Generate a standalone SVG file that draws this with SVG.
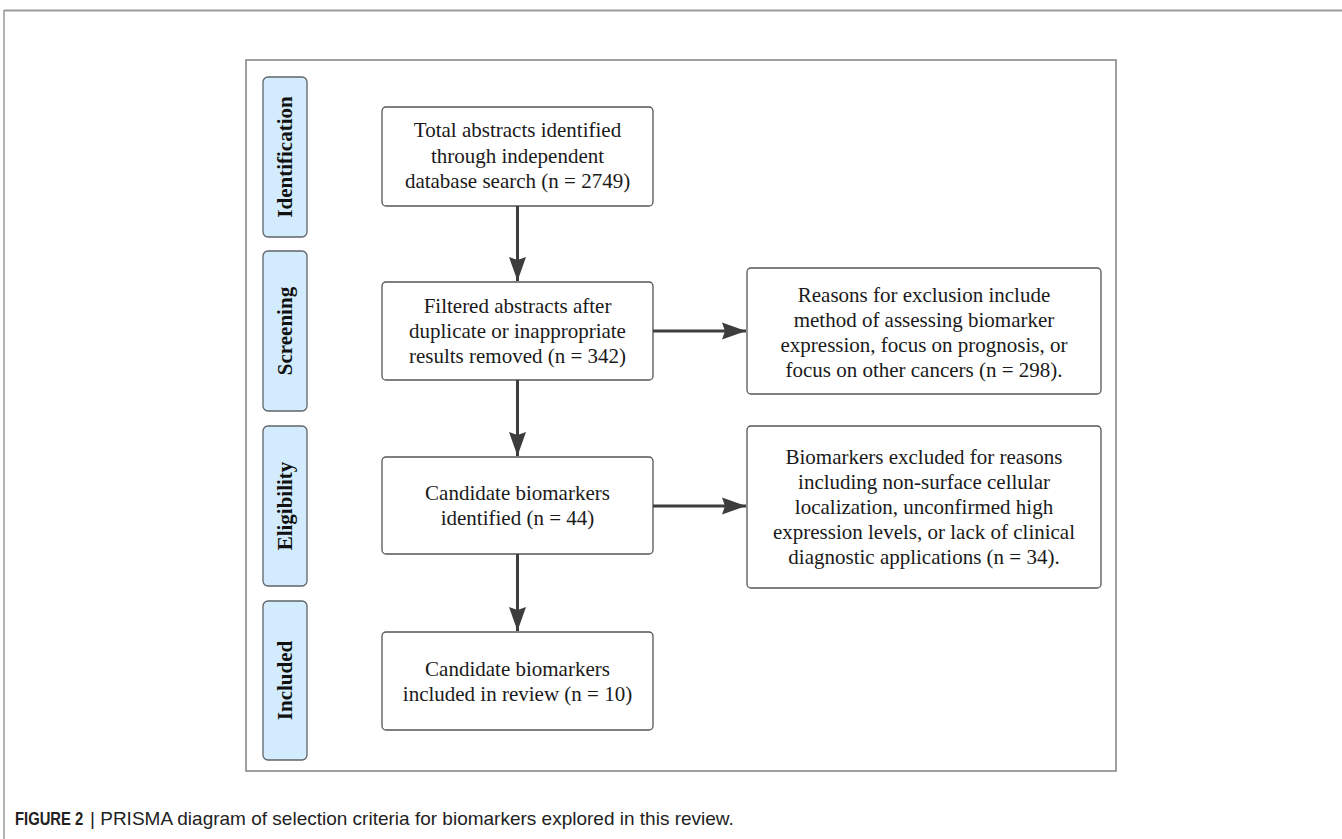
<svg xmlns="http://www.w3.org/2000/svg" width="1342" height="839" viewBox="0 0 1342 839">
<defs>
<style>
.stage{fill:#d3ecfd;stroke:#5f6468;stroke-width:1.3}
.stxt{font-family:"Liberation Serif","Times New Roman",serif;font-weight:bold;font-size:21px;fill:#111;text-anchor:middle}
.box{fill:#fff;stroke:#555;stroke-width:1.3}
.btxt{font-family:"Liberation Serif","Times New Roman",serif;font-size:21px;fill:#1a1a1a;text-anchor:middle}
.conn{stroke:#3d3d3d;stroke-width:3;fill:none}
.cap{font-family:"Liberation Sans",Arial,sans-serif;font-size:19px;fill:#222}
</style>
<marker id="arr" viewBox="0 0 24 18" refX="24" refY="9" markerWidth="24" markerHeight="18" markerUnits="userSpaceOnUse" orient="auto">
<path d="M0,0.5 L24,9 L0,17.5 L3,9 z" fill="#3d3d3d"/>
</marker>
</defs>
<rect width="1342" height="839" fill="#fff"/>
<g id="page-border">
<line x1="4" y1="10.5" x2="1342" y2="10.5" stroke="#9a9a9a" stroke-width="2"/>
<line x1="4" y1="10" x2="4" y2="839" stroke="#9a9a9a" stroke-width="1.5"/>
</g>
<rect id="frame" x="246" y="60" width="870" height="711" fill="none" stroke="#808080" stroke-width="1.5"/>
<g id="stage-identification">
<rect class="stage" x="263" y="77" width="44" height="160" rx="5"/>
<text class="stxt" transform="translate(292,157) rotate(-90)">Identification</text>
</g>
<g id="stage-screening">
<rect class="stage" x="263" y="251" width="44" height="160" rx="5"/>
<text class="stxt" transform="translate(292,331) rotate(-90)">Screening</text>
</g>
<g id="stage-eligibility">
<rect class="stage" x="263" y="426" width="44" height="160" rx="5"/>
<text class="stxt" transform="translate(292,506) rotate(-90)">Eligibility</text>
</g>
<g id="stage-included">
<rect class="stage" x="263" y="601" width="44" height="159" rx="5"/>
<text class="stxt" transform="translate(292,680.5) rotate(-90)">Included</text>
</g>
<g id="box-identified">
<rect class="box" x="382" y="107" width="271" height="99" rx="4"/>
<text class="btxt" x="517.5" y="137">Total abstracts identified</text>
<text class="btxt" x="517.5" y="162.5">through independent</text>
<text class="btxt" x="517.5" y="188">database search (n = 2749)</text>
</g>
<g id="box-filtered">
<rect class="box" x="382" y="282" width="271" height="98" rx="4"/>
<text class="btxt" x="517.5" y="313">Filtered abstracts after</text>
<text class="btxt" x="517.5" y="338">duplicate or inappropriate</text>
<text class="btxt" x="517.5" y="363">results removed (n = 342)</text>
</g>
<g id="box-excl1">
<rect class="box" x="747" y="268" width="354" height="126" rx="4"/>
<text class="btxt" x="924" y="302">Reasons for exclusion include</text>
<text class="btxt" x="924" y="327">method of assessing biomarker</text>
<text class="btxt" x="924" y="352">expression, focus on prognosis, or</text>
<text class="btxt" x="924" y="377">focus on other cancers (n = 298).</text>
</g>
<g id="box-candidates">
<rect class="box" x="382" y="457" width="271" height="97" rx="4"/>
<text class="btxt" x="517.5" y="500">Candidate biomarkers</text>
<text class="btxt" x="517.5" y="525">identified (n = 44)</text>
</g>
<g id="box-excl2">
<rect class="box" x="747" y="426" width="354" height="162" rx="4"/>
<text class="btxt" x="924" y="464">Biomarkers excluded for reasons</text>
<text class="btxt" x="924" y="489">including non-surface cellular</text>
<text class="btxt" x="924" y="514">localization, unconfirmed high</text>
<text class="btxt" x="924" y="539">expression levels, or lack of clinical</text>
<text class="btxt" x="924" y="564">diagnostic applications (n = 34).</text>
</g>
<g id="box-included">
<rect class="box" x="382" y="632" width="271" height="98" rx="4"/>
<text class="btxt" x="517.5" y="676">Candidate biomarkers</text>
<text class="btxt" x="517.5" y="701">included in review (n = 10)</text>
</g>
<g id="connectors">
<line class="conn" x1="517.5" y1="206" x2="517.5" y2="281" marker-end="url(#arr)"/>
<line class="conn" x1="517.5" y1="380" x2="517.5" y2="456" marker-end="url(#arr)"/>
<line class="conn" x1="517.5" y1="554" x2="517.5" y2="631" marker-end="url(#arr)"/>
<line class="conn" x1="653" y1="331" x2="746" y2="331" marker-end="url(#arr)"/>
<line class="conn" x1="653" y1="506" x2="746" y2="506" marker-end="url(#arr)"/>
</g>
<g id="caption">
<text class="cap" transform="translate(15,825) scale(0.78,1)" font-weight="bold">FIGURE 2</text>
<text class="cap" x="90" y="825">| PRISMA diagram of selection criteria for biomarkers explored in this review.</text>
</g>
</svg>
